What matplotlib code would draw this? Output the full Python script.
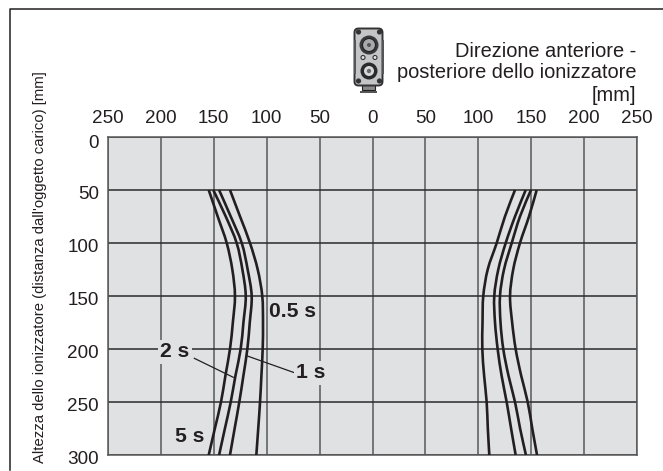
# -*- coding: utf-8 -*-
import numpy as np
import matplotlib
matplotlib.use('Agg')
import matplotlib.pyplot as plt
from matplotlib.path import Path
from matplotlib.patches import PathPatch, Circle, FancyBboxPatch, Rectangle
from matplotlib.transforms import ScaledTranslation

plt.rcParams['font.family'] = ['Liberation Sans', 'DejaVu Sans']

heights = [50, 75, 100, 125, 150, 175, 200, 225, 250, 275, 300]

# left side, distance from ionizer [mm]
left_5s = [-154.8, -146.3, -137.8, -132.5, -130, -132, -134.7, -139, -143.2, -149, -154.8]
left_2s = [-150.5, -138.7, -128.4, -123, -119.8, -122, -124.6, -129.5, -134, -139.5, -145]
left_1s = [-145, -134, -123.6, -118, -114.2, -116, -118.3, -122, -125.9, -130.3, -134.7]
left_05s = [-134.7, -125.2, -115.8, -108.5, -104.2, -103.5, -103.8, -105, -106.3, -108, -109.8]

# right side
right_5s = [155.2, 147.9, 139.4, 133, 130, 132, 135.3, 140.5, 146.7, 151, 155.5]
right_2s = [149.8, 139.4, 131.6, 124.3, 120.5, 121, 123.6, 128.5, 134.7, 139.5, 145]
right_1s = [144.8, 134.7, 125.9, 118.9, 115.1, 115.8, 118.3, 122, 126.8, 131, 135.3]
right_05s = [134.7, 125.2, 117.4, 108.9, 104.7, 104, 103.8, 105.5, 107.9, 109, 110.4]

x_ticks = [-250, -200, -150, -100, -50, 0, 50, 100, 150, 200, 250]
y_ticks = [0, 50, 100, 150, 200, 250, 300]

W, H = 663, 471
GREY = '#e0e1e3'
DARK = '#231f20'


def smooth_path(xs, ys):
    # catmull-rom through the read points
    p = np.column_stack([xs, ys])
    verts = [p[0]]
    codes = [Path.MOVETO]
    for i in range(len(p) - 1):
        p0 = p[max(i - 1, 0)]
        p3 = p[min(i + 2, len(p) - 1)]
        verts += [p[i] + (p[i + 1] - p0) / 6, p[i + 1] - (p3 - p[i]) / 6, p[i + 1]]
        codes += [Path.CURVE4] * 3
    return Path(verts, codes)


fig = plt.figure(figsize=(W / 100, H / 100), dpi=100)
ax = fig.add_axes([108 / W, 1 - 455 / H, 529 / W, 318 / H])
ax.set_xlim(-250, 250)
ax.set_ylim(300, 0)
ax.set_facecolor(GREY)

ax.xaxis.tick_top()
ax.set_xticks(x_ticks)
ax.set_xticklabels([str(abs(v)) for v in x_ticks], fontsize=13.6, color=DARK)
ax.set_yticks(y_ticks)
ax.set_yticklabels([str(v) for v in y_ticks], fontsize=13.6, color=DARK)
ax.tick_params(axis='both', length=0)
ax.tick_params(axis='x', pad=7)
ax.tick_params(axis='y', pad=6.5)
for v, t in zip(y_ticks, ax.get_yticklabels()):
    # the zero sits a bit lower than the rest in the original
    shift = 4.5 if v == 0 else 2.5
    t.set_transform(t.get_transform() + ScaledTranslation(0, -shift / 100, fig.dpi_scale_trans))

ax.grid(axis='x', color='#58585a', linewidth=1.1, zorder=1)
ax.grid(axis='y', color='#2b2a2b', linewidth=1.1, zorder=1)
ax.set_axisbelow(True)
for s in ax.spines.values():
    s.set_color('#58585a')
    s.set_linewidth(1.1)

for series in [left_5s, left_2s, left_1s, left_05s, right_5s, right_2s, right_1s, right_05s]:
    ax.add_patch(PathPatch(smooth_path(series, heights), fill=False, edgecolor=DARK,
                           linewidth=1.9, zorder=3, clip_on=True))

# leader lines
ax.plot([-168.4, -131.6], [208.8, 226.7], color=DARK, linewidth=0.9, zorder=4)
ax.plot([-118.3, -72.3], [206.6, 222.9], color=DARK, linewidth=0.9, zorder=4)

# bold time labels, only 2 s and 1 s interrupt the grid
labels = ['0.5 s', '2 s', '1 s', '5 s']
label_x = [-75.6, -186.7, -58, -172.5]
label_y = [165, 202.8, 222.6, 283]
label_box = [False, True, True, False]
for txt, lx, ly, boxed in zip(labels, label_x, label_y, label_box):
    box = dict(facecolor=GREY, edgecolor='none', pad=1.5) if boxed else None
    ax.text(lx, ly, txt, fontsize=15.2, fontweight='bold', color=DARK, ha='center', va='center',
            zorder=5, bbox=box)

# overlay in pixel coordinates: frame, icon, free texts
ov = fig.add_axes([0, 0, 1, 1], facecolor='none')
ov.set_xlim(0, W)
ov.set_ylim(H, 0)
ov.axis('off')
ov.plot([W, 10, 10], [9.3, 9.3, 470], color=DARK, linewidth=1.1)

ov.text(636.5, 57, 'Direzione anteriore -', fontsize=14.4, color=DARK, ha='right', va='baseline')
ov.text(636.5, 78.5, 'posteriore dello ionizzatore', fontsize=14.4, color=DARK, ha='right', va='baseline')
ov.text(636.5, 101, '[mm]', fontsize=14.4, color=DARK, ha='right', va='baseline')
ov.text(40, 267, "Altezza dello ionizzatore (distanza dall'oggetto carico) [mm]", fontsize=10.7,
        color=DARK, rotation=90, ha='center', va='center')

# ionizer icon
ov.add_patch(Rectangle((362, 85), 13, 5, facecolor='#8a8a8c', edgecolor=DARK, linewidth=0.8))
ov.add_patch(Rectangle((360, 91), 17, 2, facecolor='#555555', edgecolor='none'))
ov.add_patch(FancyBboxPatch((356, 30), 25, 54, boxstyle='round,pad=1.5,rounding_size=4',
                            facecolor='#c4c5c7', edgecolor='#333333', linewidth=1.4))
ov.add_patch(Rectangle((354, 40), 2, 34, facecolor='#555555', edgecolor='none'))
ov.add_patch(Rectangle((381.5, 40), 2, 34, facecolor='#555555', edgecolor='none'))
for cx, cy in [(358.5, 32), (379.5, 32), (358.5, 81), (379.5, 81)]:
    ov.add_patch(Circle((cx, cy), 2.6, facecolor='#333333', edgecolor='none'))
ov.add_patch(Circle((369, 45), 9.5, facecolor='#3a3a3c', edgecolor='none'))
ov.add_patch(Circle((369, 45), 6.5, facecolor='#a8a9ab', edgecolor='#222222', linewidth=0.8))
ov.add_patch(Circle((369, 45), 2, facecolor='#555555', edgecolor='none'))
for cx in [363, 375]:
    ov.add_patch(Circle((cx, 57.5), 2, facecolor='#e6e6e6', edgecolor='#333333', linewidth=0.8))
ov.add_patch(Circle((369, 71), 8.5, facecolor='#2a2a2c', edgecolor='none'))
ov.add_patch(Circle((369, 71), 5, facecolor='#d8d8d8', edgecolor='none'))
ov.add_patch(Circle((369, 71), 2.2, facecolor='#6a6a6c', edgecolor='none'))

fig.savefig('out.png', dpi=100)
